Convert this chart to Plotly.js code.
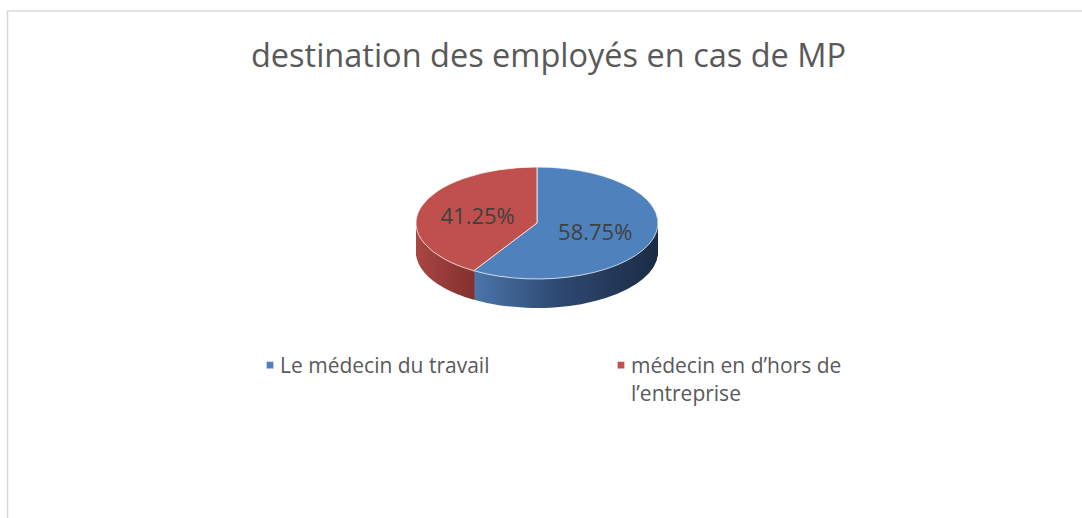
<!DOCTYPE html>
<html><head><meta charset="utf-8">
<script src="https://cdn.plot.ly/plotly-3.0.1.min.js"></script>
<style>html,body{margin:0;padding:0;background:#fff}#chart{width:1082px;height:518px}</style>
</head><body><div id="chart"></div>
<script>
const labels = ["Le médecin du travail", "médecin en d’hors de<br>l’entreprise"];
const values = [58.75, 41.25];
const topColors = ["#4f81bd", "#c0504d"];
const sideColors = ["#2c4770", "#8a3431"];
const titleText = "destination des employés en cas de MP";

const W = 1082, H = 518;
const cx = 537, cy = 223, rx = 121, ry = 56, depth = 29;
const s = ry / rx;
const FONT = 'Open Sans';

const traces = [];
for (let d = depth; d >= 1; d--) {
  const yc = cy + d / s;
  traces.push({
    type: 'pie', labels: labels, values: values, sort: false, direction: 'clockwise', rotation: 0,
    marker: {colors: sideColors, line: {width: 0}}, textinfo: 'none', hoverinfo: 'skip', showlegend: false,
    domain: {x: [(cx - rx) / W, (cx + rx) / W], y: [1 - (yc + rx) / H, 1 - (yc - rx) / H]}
  });
}
traces.push({
  type: 'pie', labels: labels, values: values, sort: false, direction: 'clockwise', rotation: 0,
  marker: {colors: topColors, line: {color: 'rgba(255,255,255,0.75)', width: 1}},
  texttemplate: '%{percent:.2%}', textposition: 'inside', insidetextorientation: 'horizontal',
  textfont: {family: FONT, size: 22, color: '#404040'}, hoverinfo: 'skip',
  domain: {x: [(cx - rx) / W, (cx + rx) / W], y: [1 - (cy + rx) / H, 1 - (cy - rx) / H]}
});

const layout = {
  width: W, height: H, margin: {l: 0, r: 0, t: 0, b: 0},
  paper_bgcolor: '#ffffff', plot_bgcolor: '#ffffff',
  font: {family: FONT, color: '#595959'},
  title: {text: titleText, x: 548.5 / W, xanchor: 'center', y: 1 - 56 / H, yanchor: 'middle',
          font: {family: FONT, size: 32.5, color: '#595959'}},
  showlegend: true,
  legend: {orientation: 'h', x: 240 / W, xanchor: 'left', y: 1 - 345 / H, yanchor: 'top',
           entrywidth: 306, valign: 'top', font: {family: FONT, size: 21, color: '#595959'},
           bgcolor: 'rgba(0,0,0,0)'},
  shapes: [{type: 'rect', xref: 'paper', yref: 'paper', x0: 7.5 / W, x1: 1.02, y0: -0.02, y1: 1 - 11 / H,
            line: {color: '#d9d9d9', width: 1.5}, fillcolor: 'rgba(0,0,0,0)', layer: 'below'}]
};

Plotly.newPlot('chart', traces, layout, {displayModeBar: false, staticPlot: true}).then(function (gd) {
  const svg = gd.querySelector('svg.main-svg');
  const NS = 'http://www.w3.org/2000/svg';
  let defs = svg.querySelector('defs');
  if (!defs) { defs = document.createElementNS(NS, 'defs'); svg.insertBefore(defs, svg.firstChild); }
  function grad(id, stops) {
    const g = document.createElementNS(NS, 'linearGradient');
    g.setAttribute('id', id); g.setAttribute('x1', '0'); g.setAttribute('x2', '1');
    g.setAttribute('y1', '0'); g.setAttribute('y2', '0');
    stops.forEach(function (st) {
      const e = document.createElementNS(NS, 'stop');
      e.setAttribute('offset', st[0]); e.setAttribute('stop-color', st[1]);
      g.appendChild(e);
    });
    defs.appendChild(g);
  }
  grad('sideBlue', [[0, '#4c75ab'], [0.45, '#2e4a72'], [1, '#1b2b44']]);
  grad('sideRed', [[0, '#a94643'], [0.38, '#8a3431'], [1, '#6a2624']]);

  const pielayer = gd.querySelector('.pielayer');
  const tr = pielayer.querySelectorAll('g.trace');
  tr.forEach(function (t, i) {
    if (i < tr.length - 1) {
      const paths = t.querySelectorAll('path.surface');
      if (paths[0]) paths[0].style.fill = 'url(#sideBlue)';
      if (paths[1]) paths[1].style.fill = 'url(#sideRed)';
    } else {
      t.querySelectorAll('path.surface').forEach(function (p) { p.style.vectorEffect = 'non-scaling-stroke'; });
    }
  });
  // keep text upright under the flattening
  pielayer.querySelectorAll('g.slicetext').forEach(function (g) {
    const r = g.getBoundingClientRect();
    const gr = gd.getBoundingClientRect();
    const ax = r.left - gr.left + r.width / 2, ay = r.top - gr.top + r.height / 2;
    const orig = g.getAttribute('transform') || '';
    g.setAttribute('transform', 'translate(' + ax + ',' + ay + ') scale(1,' + (1 / s) + ') translate(' + (-ax) + ',' + (-ay) + ') ' + orig);
  });
  pielayer.setAttribute('transform', 'translate(0,' + (cy * (1 - s)) + ') scale(1,' + s + ')');
  // smaller legend swatches, closer to their text
  gd.querySelectorAll('.legend .legendpoints path').forEach(function (p) {
    const o = p.getAttribute('transform') || '';
    p.setAttribute('transform', o + ' translate(10,0) scale(0.6)');
  });
});
</script>
</body></html>
